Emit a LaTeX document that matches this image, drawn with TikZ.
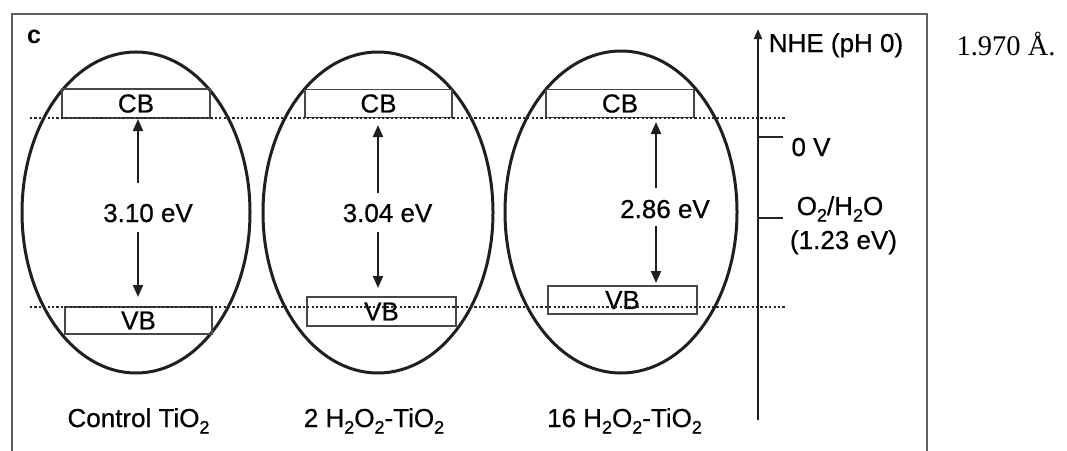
\documentclass[tikz,border=0pt]{standalone}
\usepackage{fontspec}
\setmainfont{Liberation Sans}[FakeBold=0.6]
\newfontfamily\serifnum{Liberation Serif}
\newfontfamily\panelfont{Liberation Sans Bold}
\usetikzlibrary{shapes.geometric,arrows.meta}
\newcommand{\mysb}[1]{\raisebox{-0.25em}{\fontsize{18}{18}\selectfont #1}}
\begin{document}
\begin{tikzpicture}[x=1pt,y=-1pt,
  ell/.style={draw=black!88, line width=3pt, ellipse, inner sep=0pt},
  band/.style={draw=black!72, line width=1.1pt, rectangle, inner sep=0pt, font=\fontsize{26}{26}\selectfont},
  lbl/.style={font=\fontsize{26}{30}\selectfont, inner sep=0pt, anchor=base},
  gaparrow/.style={-{Triangle[length=12pt,width=10pt]}, line width=2pt, draw=black!88},
  dotline/.style={line width=2.6pt, dash pattern=on 2.2pt off 2.2pt, draw=black!85},
  frameline/.style={draw=black!62, line width=1.3pt},
  tickline/.style={draw=black!85, line width=1.3pt}]
\useasboundingbox (0,0) rectangle (1067,450);

% frame
\coordinate (fbl) at (12,452);
\coordinate (ftl) at (12,14);
\coordinate (ftr) at (927,14);
\coordinate (fbr) at (927,452);
\draw[frameline] (fbl) -- (ftl) -- (ftr) -- (fbr);

\node[lbl, font=\panelfont\fontsize{25}{25}\selectfont] (panel) at (34,43) {c};

% ellipses
\node[ell, minimum width=228pt, minimum height=321pt] (e1) at (136,212.5) {};
\node[ell, minimum width=230pt, minimum height=321pt] (e2) at (378,212.5) {};
\node[ell, minimum width=232pt, minimum height=322pt] (e3) at (621,212) {};

% CB boxes
\node[band, minimum width=148pt, minimum height=29pt] (cb1) at (136,103.5) {CB};
\node[band, minimum width=147pt, minimum height=28pt] (cb2) at (378.5,103.5) {CB};
\node[band, minimum width=148pt, minimum height=28pt] (cb3) at (620,103.5) {CB};

% VB boxes
\node[band, minimum width=147pt, minimum height=27pt] (vb1) at (138.5,320.5) {VB};
\node[band, minimum width=149pt, minimum height=29pt] (vb2) at (381.5,311.5) {VB};
\node[band, minimum width=149pt, minimum height=28pt] (vb3) at (622.5,300) {VB};

% dotted reference lines
\coordinate (d1l) at (30,118);
\coordinate (d1r) at (785,118);
\coordinate (d2l) at (30,307);
\coordinate (d2r) at (785,307);
\draw[dotline] (d1l) -- (d1r);
\draw[dotline] (d2l) -- (d2r);

% gap arrows
\node[lbl] (g1) at (148,222) {3.10 eV};
\coordinate (g1n) at (138,183);
\coordinate (g1s) at (138,232);
\coordinate (g1t) at (138,119);
\coordinate (g1b) at (138,297);
\draw[gaparrow] (g1n) -- (g1t);
\draw[gaparrow] (g1s) -- (g1b);

\node[lbl] (g2) at (387.5,222) {3.04 eV};
\coordinate (g2n) at (378,193);
\coordinate (g2s) at (378,232);
\coordinate (g2t) at (378,125);
\coordinate (g2b) at (378,288);
\draw[gaparrow] (g2n) -- (g2t);
\draw[gaparrow] (g2s) -- (g2b);

\node[lbl] (g3) at (665,218) {2.86 eV};
\coordinate (g3n) at (656,188);
\coordinate (g3s) at (656,226);
\coordinate (g3t) at (656,122);
\coordinate (g3b) at (656,283);
\draw[gaparrow] (g3n) -- (g3t);
\draw[gaparrow] (g3s) -- (g3b);

% sample labels
\node[lbl] (s1) at (138.5,427) {Control TiO\mysb{2}};
\node[lbl] (s2) at (374,427) {2 H\mysb{2}O\mysb{2}-TiO\mysb{2}};
\node[lbl] (s3) at (624.5,427) {16 H\mysb{2}O\mysb{2}-TiO\mysb{2}};

% NHE axis
\coordinate (axb) at (758,420);
\coordinate (axt) at (758,29);
\draw[-{Triangle[length=10pt,width=8pt]}, line width=2pt, draw=black!88] (axb) -- (axt);
\node[lbl] (nhe) at (836,52) {NHE (pH 0)};

\coordinate (t0a) at (758,137);
\coordinate (t0b) at (783,137);
\draw[tickline] (t0a) -- (t0b);
\node[lbl] (zero) at (811,156) {0 V};

\coordinate (t1a) at (758,218);
\coordinate (t1b) at (783,218);
\draw[tickline] (t1a) -- (t1b);
\node[lbl] (oxh) at (840,215) {O\mysb{2}/H\mysb{2}O};
\node[lbl] (oxv) at (843.5,249) {(1.23 eV)};

% side text
\node[lbl, font=\serifnum\fontsize{28.5}{28}\selectfont] (side) at (1006,55) {1.970 Å.};
\end{tikzpicture}
\end{document}
